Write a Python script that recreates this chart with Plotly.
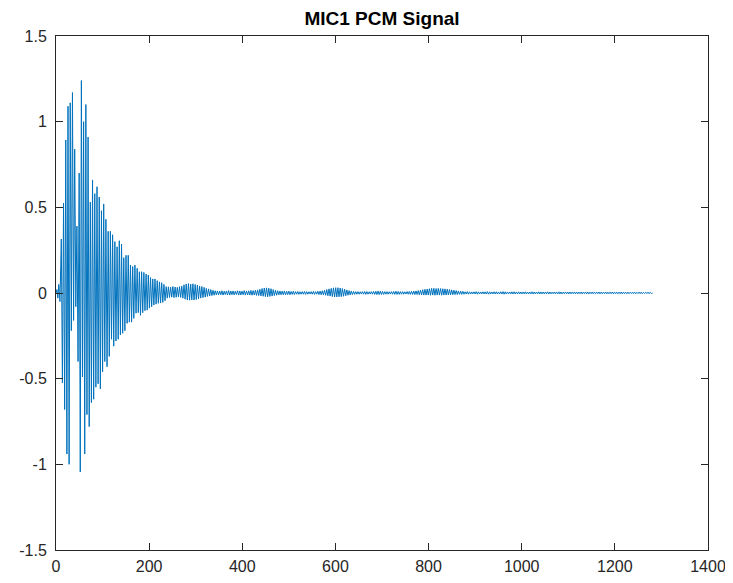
import plotly.graph_objects as go

# ---------------- data ----------------
title_text = "MIC1 PCM Signal"
x_tick_vals = [0, 200, 400, 600, 800, 1000, 1200, 1400]
x_tick_text = ["0", "200", "400", "600", "800", "1000", "1200", "1400"]
y_tick_vals = [-1.5, -1.0, -0.5, 0.0, 0.5, 1.0, 1.5]
y_tick_text = ["-1.5", "-1", "-0.5", "0", "0.5", "1", "1.5"]

# small wiggles before the first big oscillation
lead_samples = [0, 2, 4, 6, 8.5]
lead_values = [0.0, 0.02, -0.03, 0.05, -0.05]

# oscillation: one cycle is ~4.79 samples, first positive peak near sample 11.4
first_peak_sample = 11.4
cycle_samples = 4.79

# positive peak of each cycle
pos_peaks = [
    0.315, 0.525, 0.893, 1.09, 1.11, 1.17, 0.84, 0.39, 0.70, 1.24,
    1.00, 1.10, 0.91, 0.53, 0.66, 0.58, 0.62, 0.56, 0.48, 0.52,
    0.43, 0.36, 0.36, 0.34, 0.30, 0.27, 0.305, 0.286, 0.206, 0.22,
    0.22, 0.163, 0.154, 0.163, 0.144, 0.124, 0.124, 0.12, 0.11, 0.105,
    0.09, 0.082, 0.082, 0.072,
    0.065, 0.06, 0.05, 0.037,
    0.036, 0.034, 0.038, 0.035, 0.033, 0.037, 0.04,
    0.048, 0.053, 0.055, 0.052, 0.054, 0.05, 0.046,
    0.04, 0.038, 0.033,
    0.027, 0.024, 0.02, 0.016, 0.013,
    0.012, 0.011, 0.013, 0.01, 0.012, 0.014, 0.011, 0.012, 0.01, 0.013,
    0.012, 0.011, 0.014, 0.012, 0.013, 0.015, 0.014, 0.016, 0.018,
    0.022, 0.026, 0.029, 0.03, 0.028, 0.025, 0.02, 0.016,
    0.013, 0.012, 0.011, 0.012, 0.01, 0.011, 0.009, 0.01,
    0.008, 0.009, 0.007, 0.008, 0.009, 0.008, 0.007, 0.008, 0.009, 0.008,
    0.01, 0.011, 0.013, 0.016, 0.02,
    0.024, 0.027, 0.03, 0.031, 0.031, 0.029, 0.026, 0.022, 0.018, 0.014, 0.011,
    0.009, 0.008, 0.008, 0.007, 0.008, 0.009, 0.008, 0.007, 0.008, 0.009,
    0.01, 0.011, 0.01, 0.009, 0.008, 0.008, 0.007, 0.008, 0.009, 0.01,
    0.009, 0.008, 0.008, 0.007, 0.008, 0.009, 0.01, 0.011, 0.012, 0.014,
    0.016, 0.019,
    0.021, 0.023, 0.025, 0.027, 0.027, 0.026, 0.027, 0.026, 0.025, 0.024,
    0.022, 0.02, 0.018, 0.016, 0.014, 0.012, 0.011, 0.01,
    0.007, 0.008, 0.007, 0.006, 0.007, 0.008, 0.007, 0.006, 0.007, 0.007, 0.008, 0.007,
    0.006, 0.007, 0.007, 0.006, 0.007, 0.008, 0.007, 0.006, 0.006, 0.007, 0.007, 0.006,
    0.007, 0.006, 0.006, 0.007, 0.006, 0.006, 0.007, 0.006, 0.006, 0.007, 0.006, 0.006,
    0.006, 0.007, 0.006, 0.005, 0.006, 0.006, 0.007, 0.006, 0.005, 0.006, 0.006, 0.006,
    0.005, 0.006, 0.006, 0.005, 0.006, 0.005, 0.006, 0.006, 0.005, 0.006, 0.005, 0.005,
    0.006, 0.005, 0.005, 0.006, 0.005, 0.005, 0.006, 0.005, 0.005, 0.005, 0.006, 0.005,
    0.005, 0.005, 0.004, 0.005, 0.005, 0.004, 0.005, 0.005, 0.004, 0.004, 0.005, 0.004,
]

# negative trough following each positive peak
neg_peaks = [
    -0.525, -0.68, -0.94, -1.00, -0.22, -0.16, -0.08, -0.40, -1.045, -0.49,
    -0.94, -0.71, -0.78, -0.64, -0.62, -0.55, -0.53, -0.56, -0.46, -0.40,
    -0.43, -0.37, -0.27, -0.31, -0.28, -0.27, -0.245, -0.235, -0.22, -0.177,
    -0.17, -0.17, -0.148, -0.118, -0.115, -0.13, -0.115, -0.103, -0.10, -0.088,
    -0.08, -0.07, -0.065, -0.06,
    -0.058, -0.055, -0.045, -0.03,
    -0.026, -0.024, -0.027, -0.025, -0.023, -0.026, -0.03,
    -0.036, -0.041, -0.042, -0.04, -0.041, -0.038, -0.034,
    -0.03, -0.027, -0.024,
    -0.02, -0.018, -0.015, -0.013, -0.011,
    -0.011, -0.01, -0.012, -0.009, -0.011, -0.012, -0.01, -0.011, -0.009, -0.012,
    -0.011, -0.01, -0.012, -0.011, -0.012, -0.013, -0.012, -0.014, -0.015,
    -0.017, -0.019, -0.021, -0.022, -0.02, -0.018, -0.015, -0.013,
    -0.011, -0.01, -0.01, -0.011, -0.009, -0.01, -0.008, -0.009,
    -0.007, -0.008, -0.007, -0.007, -0.008, -0.007, -0.006, -0.007, -0.008, -0.007,
    -0.009, -0.01, -0.011, -0.013, -0.016,
    -0.018, -0.021, -0.023, -0.023, -0.022, -0.021, -0.019, -0.016, -0.013, -0.011, -0.009,
    -0.008, -0.007, -0.007, -0.006, -0.007, -0.008, -0.007, -0.006, -0.007, -0.008,
    -0.009, -0.009, -0.009, -0.008, -0.007, -0.007, -0.006, -0.007, -0.008, -0.008,
    -0.008, -0.007, -0.007, -0.006, -0.007, -0.008, -0.008, -0.009, -0.009, -0.01,
    -0.011, -0.012,
    -0.012, -0.012, -0.013, -0.012, -0.013, -0.012, -0.012, -0.013, -0.012, -0.012,
    -0.011, -0.011, -0.01, -0.009, -0.009, -0.008, -0.008, -0.007,
    -0.006, -0.007, -0.006, -0.005, -0.006, -0.007, -0.006, -0.005, -0.006, -0.006, -0.007, -0.006,
    -0.005, -0.006, -0.006, -0.005, -0.006, -0.007, -0.006, -0.005, -0.005, -0.006, -0.006, -0.005,
    -0.006, -0.005, -0.005, -0.006, -0.005, -0.005, -0.006, -0.005, -0.005, -0.006, -0.005, -0.005,
    -0.005, -0.006, -0.005, -0.004, -0.005, -0.005, -0.006, -0.005, -0.004, -0.005, -0.005, -0.005,
    -0.004, -0.005, -0.005, -0.004, -0.005, -0.004, -0.005, -0.005, -0.004, -0.005, -0.004, -0.004,
    -0.005, -0.004, -0.004, -0.005, -0.004, -0.004, -0.005, -0.004, -0.004, -0.004, -0.005, -0.004,
    -0.004, -0.004, -0.003, -0.004, -0.004, -0.003, -0.004, -0.004, -0.003, -0.003, -0.004, -0.003,
]

last_sample = 1281
last_value = 0.0

# ---------------- build the trace ----------------
xs = list(lead_samples)
ys = list(lead_values)
for k, (p, n) in enumerate(zip(pos_peaks, neg_peaks)):
    s = first_peak_sample + k * cycle_samples
    xs.append(s)
    ys.append(p)
    xs.append(s + cycle_samples / 2)
    ys.append(n)
xs.append(last_sample)
ys.append(last_value)

axis_color = "#262626"
font_family = "Liberation Sans, Arial, sans-serif"

fig = go.Figure()
fig.add_trace(go.Scatter(
    x=xs, y=ys, mode="lines",
    line=dict(color="#0072BD", width=1),
    showlegend=False, hoverinfo="skip",
))

axis_common = dict(
    showline=True, linecolor=axis_color, linewidth=1, mirror="ticks",
    ticks="inside", ticklen=7, tickwidth=1, tickcolor=axis_color,
    showgrid=False, zeroline=False,
    tickfont=dict(family=font_family, size=16, color=axis_color),
)

# page body has an 8px margin, so the figure is sized/offset to compensate
fig.update_layout(
    width=725, height=575,
    margin=dict(l=48, r=25, t=28, b=33, autoexpand=False),
    paper_bgcolor="white", plot_bgcolor="white",
    title=dict(
        text="<b>" + title_text + "</b>",
        x=0.5, xref="paper", xanchor="center",
        y=1 - 10 / 575, yref="container", yanchor="middle",
        font=dict(family=font_family, size=19, color="#000000"),
    ),
    xaxis=dict(range=[0, 1400], tickvals=x_tick_vals, ticktext=x_tick_text,
               ticklabelstandoff=2, **axis_common),
    yaxis=dict(range=[-1.5, 1.5], tickvals=y_tick_vals, ticktext=y_tick_text,
               ticklabelstandoff=5, **axis_common),
)

fig.write_html("out.html")
print(len(pos_peaks), len(neg_peaks))
